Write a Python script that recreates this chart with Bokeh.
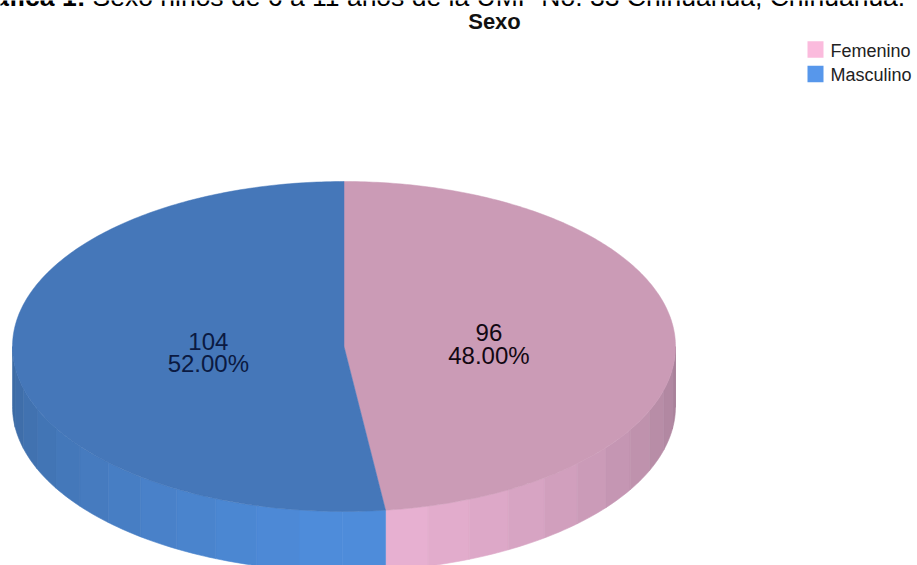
import numpy as np
from bokeh.core.properties import value
from bokeh.embed import file_html
from bokeh.models import Range1d
from bokeh.plotting import figure
from bokeh.resources import INLINE

categories = ["Femenino", "Masculino"]
counts = [96, 104]
percent_labels = ["48.00%", "52.00%"]
top_colors = ["#CB9BB6", "#4577B9"]
legend_colors = ["#FBBBDD", "#5797EB"]
side_near = [(238, 181, 215), (79, 141, 220)]
side_far = [(168, 129, 153), (61, 106, 163)]
label_colors = ["#120812", "#0B1A42"]
label_radial = [0.438, 0.41]
chart_title = "Sexo"
caption_bold = "Gráfica 1:"
caption = "Sexo niños de 6 a 11 años de la UMF No. 33 Chihuahua, Chihuahua."

W, H = 917, 565
CX, CY, RX, RY, DEPTH = 343.5, 346, 331.5, 165, 60
BAND = 7.5

p = figure(width=W, height=H, output_backend="svg", toolbar_location=None,
           x_range=Range1d(0, W), y_range=Range1d(H, 0), min_border=0,
           outline_line_color=None, background_fill_color="#FFFFFF")
p.axis.visible = False
p.grid.visible = False


def pt(theta, dy=0.0):
    t = np.radians(theta)
    return CX + RX * np.sin(t), CY - RY * np.cos(t) + dy


total = sum(counts)
edges = np.concatenate([[0], np.cumsum(counts) / total * 360])

# side wall, stepped bands on the visible lower half
xs, ys, cols = [], [], []
for i in range(len(counts)):
    a0, a1 = max(edges[i], 90), min(edges[i + 1], 270)
    start = np.arange(a0, a1, BAND) if i == 1 else np.arange(a1, a0, -BAND)
    for s in start:
        e = min(s + BAND, a1) if i == 1 else max(s - BAND, a0)
        th = np.linspace(s, e, 8)
        x1, y1 = pt(th)
        x2, y2 = pt(th[::-1], DEPTH)
        xs.append(np.concatenate([x1, x2]))
        ys.append(np.concatenate([y1, y2]))
        f = min(abs((s + e) / 2 - 180) / 90, 1) ** 1.15
        rgb = [int(n + (m - n) * f) for n, m in zip(side_near[i], side_far[i])]
        cols.append("#%02X%02X%02X" % tuple(rgb))
p.patches(xs, ys, fill_color=cols, line_color=cols, line_width=0.6)

# top face
for i in range(len(counts)):
    th = np.linspace(edges[i], edges[i + 1], 240)
    x, y = pt(th)
    p.patch(np.r_[CX, x], np.r_[CY, y], fill_color=top_colors[i], line_color=top_colors[i], line_width=0.5)

# slice labels
for i, (n, lab) in enumerate(zip(counts, percent_labels)):
    mid = (edges[i] + edges[i + 1]) / 2
    lx, ly = pt(mid)
    lx = CX + (lx - CX) * label_radial[i]
    ly = CY + (ly - CY) * label_radial[i] + 2
    for txt, dy in ((str(n), -11.25), (lab, 11.25)):
        p.text([lx], [ly + dy], text=[txt], text_align="center", text_baseline="middle",
               text_font=value("Liberation Sans"), text_font_size="24px", text_color=label_colors[i])

# titles
p.text([85], [-3.5], text=[caption_bold], text_align="right", text_baseline="alphabetic",
       text_font=value("Liberation Sans"), text_font_size="26.5px", text_font_style="bold", text_color="#000000")
p.text([92], [-3.5], text=[caption], text_align="left", text_baseline="alphabetic",
       text_font=value("Liberation Sans"), text_font_size="26.5px", text_color="#000000")
p.text([494], [21], text=[chart_title], text_align="center", text_baseline="middle",
       text_font=value("Liberation Sans"), text_font_size="22px", text_font_style="bold", text_color="#111111")

# legend
for i, c in enumerate(categories):
    yy = 49 + i * 24.5
    p.rect([815], [yy], width=16, height=16.5, fill_color=legend_colors[i], line_color=None)
    p.text([830], [yy + 1], text=[c], text_align="left", text_baseline="middle",
           text_font=value("Liberation Sans"), text_font_size="18px", text_color="#222222")

open("out.html", "w").write(file_html(p, INLINE))
